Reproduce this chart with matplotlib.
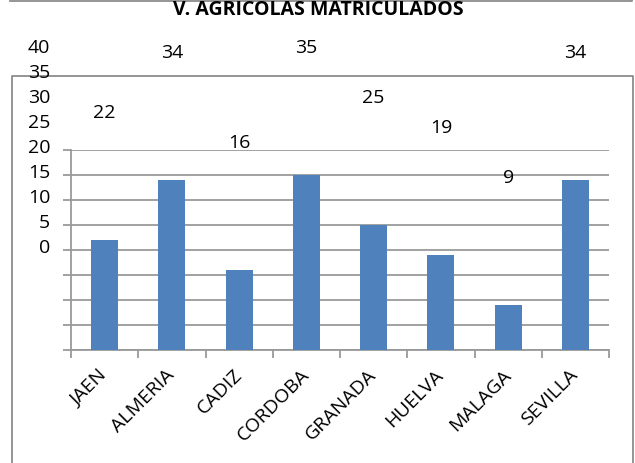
import matplotlib; matplotlib.use("Agg")
import matplotlib.pyplot as plt
from matplotlib.lines import Line2D
from matplotlib.transforms import ScaledTranslation

provincias = ["JAEN", "ALMERIA", "CADIZ", "CORDOBA", "GRANADA", "HUELVA", "MALAGA", "SEVILLA"]
matriculados = [22, 34, 16, 35, 25, 19, 9, 34]
yticks = [0, 5, 10, 15, 20, 25, 30, 35, 40]

plt.rcParams["font.family"] = ["Open Sans", "DejaVu Sans"]
W, H = 635, 464
fig = plt.figure(figsize=(W / 100, H / 100), dpi=100)
ax = fig.add_axes([71 / W, (H - 351) / H, 538 / W, 200 / H])

grey = "#9a9a9a"
x = list(range(len(provincias)))
ax.bar(x, matriculados, width=0.4, color="#4F81BD", zorder=3)
ax.set_xlim(-0.5, len(provincias) - 0.5)
ax.set_ylim(0, 40)
ax.set_yticks(yticks)
ax.yaxis.grid(True, color=grey, linewidth=1.3, zorder=0)
ax.tick_params(axis="y", length=6, width=1.3, color=grey, labelsize=14, pad=9)
for sp in ["top", "right"]:
    ax.spines[sp].set_visible(False)
for sp in ["left", "bottom"]:
    ax.spines[sp].set_color(grey)
    ax.spines[sp].set_linewidth(1.3)

# x ticks at category boundaries, labels at centres
ax.set_xticks([i - 0.5 for i in range(len(provincias) + 1)])
ax.set_xticklabels([])
ax.set_xticks(x, minor=True)
ax.set_xticklabels(provincias, minor=True, rotation=45, ha="right", va="center",
                   rotation_mode="anchor", fontsize=14)
ax.tick_params(axis="x", which="major", length=6, width=1.3, color=grey)
ax.tick_params(axis="x", which="minor", length=0, pad=15.5)

# y tick labels sit shifted upward in the reference
shift = ScaledTranslation(0, 105 / 100, fig.dpi_scale_trans)
for lab in ax.get_yticklabels():
    lab.set_transform(lab.get_transform() + shift)

# value labels, also displaced well above the bars
for xi, v in zip(x, matriculados):
    ax.annotate(str(v), (xi, v), xytext=(0, 128), textcoords="offset pixels",
                ha="center", va="center", fontsize=14)

fig.text(318 / W, 1 - 15 / H, "V. AGRICOLAS MATRICULADOS", ha="center", va="baseline",
         fontsize=14, fontweight="bold")

def fline(xs, ys):
    fig.add_artist(Line2D([a / W for a in xs], [1 - b / H for b in ys],
                          color="#8c8c8c", linewidth=1.3, zorder=0))

fline([10, 632, 632], [2, 2, 0])
fline([12, 12, 633, 633], [464, 77, 77, 464])

fig.savefig("out.png", dpi=100)
